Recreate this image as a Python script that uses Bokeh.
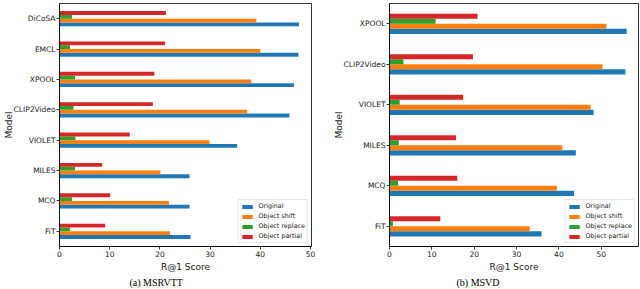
from bokeh.plotting import figure
from bokeh.models import ColumnDataSource, FactorRange, Range1d, Title
from bokeh.transform import dodge
from bokeh.layouts import row
from bokeh.embed import file_html
from bokeh.resources import INLINE

# ---------------- data ----------------
series_names = ["Original", "Object shift", "Object replace", "Object partial"]
series_keys = ["original", "shift", "replace", "partial"]
colors = ["#1f77b4", "#ff7f0e", "#2ca02c", "#d62728"]
x_ticks = [0, 10, 20, 30, 40, 50]

# (a) MSRVTT  (bottom to top)
models_a = ["FiT", "MCQ", "MILES", "VIOLET", "CLIP2Video", "XPOOL", "EMCL", "DiCoSA"]
original_a = [26.1, 25.9, 25.9, 35.4, 45.8, 46.7, 47.6, 47.7]
shift_a = [22.0, 21.8, 20.1, 29.9, 37.4, 38.2, 40.0, 39.2]
replace_a = [2.1, 2.5, 3.1, 3.2, 2.8, 3.1, 2.1, 2.5]
partial_a = [9.1, 10.1, 8.5, 14.0, 18.6, 18.9, 21.0, 21.2]

# (b) MSVD  (bottom to top)
models_b = ["FiT", "MCQ", "MILES", "VIOLET", "CLIP2Video", "XPOOL"]
original_b = [35.9, 43.6, 44.0, 48.2, 55.7, 56.0]
shift_b = [33.1, 39.5, 40.8, 47.5, 50.3, 51.2]
replace_b = [0.8, 2.0, 2.2, 2.4, 3.3, 10.9]
partial_b = [12.0, 16.0, 15.7, 17.4, 19.7, 20.8]

captions = ["(a) MSRVTT", "(b) MSVD"]
x_label = "R@1 Score"
y_label = "Model"

FONT = "DejaVu Sans"
TXT = "#1a1a1a"
offsets = [-0.1875, -0.0625, 0.0625, 0.1875]


def make_panel(models, vals, xmax, bl, br, bt, caption, cap_offset):
    data = dict(model=models)
    for k, v in zip(series_keys, vals):
        data[k] = v
    src = ColumnDataSource(data)
    p = figure(width=320, height=289, y_range=FactorRange(factors=models),
               x_range=Range1d(0, xmax), output_backend="svg",
               toolbar_location=None, min_border_left=bl, min_border_right=br,
               min_border_top=bt, min_border_bottom=43)
    for k, name, c, off in zip(series_keys, series_names, colors, offsets):
        p.hbar(y=dodge("model", off, range=p.y_range), left=0, right=k,
               height=0.125, fill_color=c, line_color=None, source=src,
               legend_label=name)
    p.xgrid.visible = False
    p.ygrid.visible = False
    p.outline_line_color = "black"
    p.outline_line_width = 0.8
    p.xaxis.ticker = x_ticks
    for ax in (p.xaxis, p.yaxis):
        ax.axis_line_color = "black"
        ax.axis_line_width = 0.8
        ax.major_tick_line_color = "black"
        ax.major_tick_line_width = 0.8
        ax.major_tick_out = 3
        ax.major_tick_in = 0
        ax.minor_tick_line_color = None
        ax.major_label_text_font = FONT
        ax.major_label_text_font_size = "7.5px"
        ax.major_label_text_color = TXT
        ax.axis_label_text_font = FONT
        ax.axis_label_text_font_size = "9px"
        ax.axis_label_text_font_style = "normal"
        ax.axis_label_text_color = TXT
    p.xaxis.major_label_standoff = 1
    p.yaxis.major_label_standoff = 1
    p.xaxis.axis_label = x_label
    p.yaxis.axis_label = y_label
    p.xaxis.axis_label_standoff = 2
    p.yaxis.axis_label_standoff = -3

    lg = p.legend[0]
    lg.location = "bottom_right"
    lg.margin = 3
    lg.padding = 2
    lg.spacing = 2
    lg.label_height = 8
    lg.glyph_height = 5
    lg.glyph_width = 13
    lg.label_standoff = 5
    lg.label_text_font = FONT
    lg.label_text_font_size = "6.4px"
    lg.label_text_color = TXT
    lg.border_line_color = "#cccccc"
    lg.border_line_width = 1
    lg.background_fill_alpha = 0.8

    p.add_layout(Title(text=caption, align="left", offset=cap_offset, standoff=1,
                       text_font="Liberation Serif", text_font_size="10px",
                       text_font_style="normal", text_color="black"), "below")
    return p


p1 = make_panel(models_a, [original_a, shift_a, replace_a, partial_a], 50.2,
                59, 9, 1, captions[0], 70)
p2 = make_panel(models_b, [original_b, shift_b, replace_b, partial_b], 58.8,
                69, 2, 3, captions[1], 67)

layout = row(p1, p2)
open("out.html", "w").write(file_html(layout, INLINE))
